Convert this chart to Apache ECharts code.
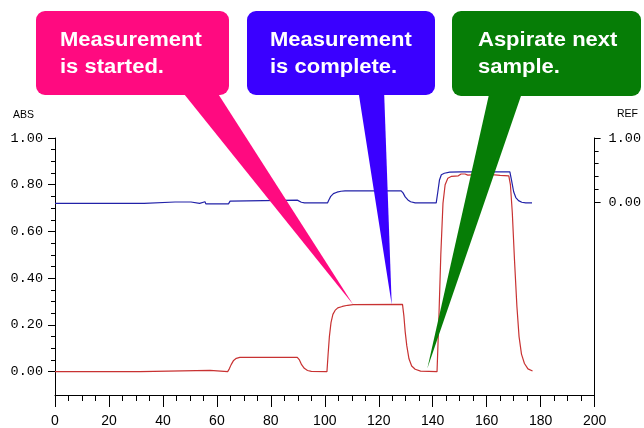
<!DOCTYPE html>
<html>
<head>
<meta charset="utf-8">
<script src="https://cdn.jsdelivr.net/npm/echarts@6/dist/echarts.min.js"></script>
<style>
html,body{margin:0;padding:0;background:#fff;}
#chart{width:644px;height:428px;}
</style>
</head>
<body>
<div id="chart"></div>
<script>
// ---- data ----
var xTickLabels = [0, 20, 40, 60, 80, 100, 120, 140, 160, 180, 200];
var absTickValues = [0, 0.2, 0.4, 0.6, 0.8, 1.0];
var absMinorValues = [0.05, 0.1, 0.15, 0.25, 0.3, 0.35, 0.45, 0.5, 0.55, 0.65, 0.7, 0.75, 0.85, 0.9, 0.95];
var refTickValues = [0, 1];
var refMinorValues = [0.2, 0.4, 0.6, 0.8];

var redSeries = [
  [0, 0.0], [31.5, 0.0], [31.8, 0.005], [57.5, 0.005], [57.8, 0.0], [64, 0.0],
  [64.6, 0.012], [65.3, 0.03], [66.2, 0.048], [67.2, 0.057], [68.5, 0.061],
  [89.8, 0.061], [90.6, 0.05], [91.4, 0.03], [92.4, 0.014], [93.6, 0.005], [95, 0.001],
  [100.8, 0.0], [101.2, 0.07], [101.7, 0.15], [102.3, 0.21], [103, 0.245], [103.8, 0.262],
  [104.8, 0.273], [106.5, 0.279], [108.5, 0.284], [110.5, 0.287], [128.8, 0.288],
  [129.3, 0.24], [129.8, 0.17], [130.4, 0.11], [131.2, 0.055], [132.2, 0.024], [133.5, 0.01],
  [135.5, 0.002], [141.6, 0.0], [142.2, 0.2], [143, 0.5], [143.8, 0.72], [144.6, 0.8],
  [145.6, 0.828], [147, 0.836], [149.5, 0.838], [150.5, 0.846], [152, 0.846], [153, 0.841],
  [156, 0.843], [157.5, 0.842], [158.3, 0.85], [159.2, 0.843], [163, 0.842], [165, 0.84],
  [168.2, 0.838], [168.8, 0.8], [169.5, 0.68], [170.3, 0.48], [171.2, 0.28], [172, 0.15],
  [172.9, 0.075], [174, 0.035], [175.3, 0.012], [177, 0.003]
];

var blueSeries = [
  [0, 0.72], [33, 0.72], [33.2, 0.726], [44.5, 0.726], [44.8, 0.721], [45.2, 0.726],
  [46.5, 0.726], [46.8, 0.721], [47.2, 0.726], [50.4, 0.726], [50.7, 0.72], [53.6, 0.72],
  [53.9, 0.727], [55.6, 0.727], [55.9, 0.718], [64.3, 0.718], [64.9, 0.73], [65.5, 0.734],
  [89.8, 0.734], [90.5, 0.73], [91.3, 0.725], [92.5, 0.722], [101, 0.722], [101.5, 0.735],
  [102.2, 0.75], [103.2, 0.762], [104.5, 0.768], [106, 0.772], [107.5, 0.774], [128.3, 0.774],
  [129, 0.765], [129.8, 0.748], [130.8, 0.735], [131.8, 0.727], [133.5, 0.722], [141.3, 0.722],
  [141.9, 0.77], [142.5, 0.82], [143.2, 0.843], [144.3, 0.849], [146.3, 0.854], [150.2, 0.855],
  [150.6, 0.851], [151, 0.855], [168.6, 0.855], [169.2, 0.82], [170, 0.77], [170.8, 0.745],
  [171.8, 0.732], [173, 0.725], [174.5, 0.722], [176.8, 0.722]
];

var calloutLines = [
  ['Measurement', 'is started.'],
  ['Measurement', 'is complete.'],
  ['Aspirate next', 'sample.']
];
var calloutTargets = [[110.5, 0.287], [124.8, 0.287], [138, 0.013]];

// ---- chart ----
var chart = echarts.init(document.getElementById('chart'), null, {renderer: 'canvas'});
var axisColor = '#000';
var tickFont = '"Liberation Mono", monospace';

function fmt(v) { return Number(v).toFixed(2); }

chart.setOption({
  animation: false,
  backgroundColor: '#fff',
  grid: {left: 55, right: 44, top: 138, bottom: 33, containLabel: false},
  xAxis: {
    type: 'value', min: 0, max: 200, interval: 20,
    axisLine: {show: true, onZero: false, lineStyle: {color: axisColor, width: 1}},
    axisTick: {show: true, length: 12, lineStyle: {color: axisColor}},
    minorTick: {show: true, splitNumber: 4, length: 6, lineStyle: {color: axisColor}},
    axisLabel: {margin: 19, fontSize: 14, color: '#000', fontFamily: '"Liberation Sans", Arial, sans-serif',
      customValues: xTickLabels},
    splitLine: {show: false}
  },
  yAxis: [
    {
      type: 'value', position: 'left', min: -0.1, max: 1.0,
      axisLine: {show: true, onZero: false, lineStyle: {color: axisColor}},
      axisTick: {show: true, length: 7, customValues: absTickValues, lineStyle: {color: axisColor}},
      axisLabel: {show: true, customValues: absTickValues, formatter: fmt, margin: 12,
        fontSize: 13.5, color: '#000', fontFamily: tickFont},
      splitLine: {show: false}
    },
    {
      type: 'value', position: 'left', min: -0.1, max: 1.0,
      axisLine: {show: false, onZero: false},
      axisTick: {show: true, length: 4, customValues: absMinorValues, lineStyle: {color: axisColor}},
      axisLabel: {show: false},
      splitLine: {show: false}
    },
    {
      type: 'value', position: 'right', min: -3, max: 1,
      axisLine: {show: true, onZero: false, lineStyle: {color: axisColor}},
      axisTick: {show: true, length: 6, customValues: refTickValues, lineStyle: {color: axisColor}},
      axisLabel: {show: true, customValues: refTickValues, formatter: fmt, margin: 14,
        fontSize: 13.5, color: '#000', fontFamily: tickFont},
      splitLine: {show: false}
    },
    {
      type: 'value', position: 'right', min: -3, max: 1,
      axisLine: {show: false, onZero: false},
      axisTick: {show: true, length: 4, customValues: refMinorValues, lineStyle: {color: axisColor}},
      axisLabel: {show: false},
      splitLine: {show: false}
    }
  ],
  series: [
    {
      name: 'REF', type: 'line', xAxisIndex: 0, yAxisIndex: 0, data: blueSeries,
      symbol: 'none', showSymbol: false, smooth: false,
      lineStyle: {color: '#2222a8', width: 1.2}, itemStyle: {color: '#2222a8'}, z: 2
    },
    {
      name: 'ABS', type: 'line', xAxisIndex: 0, yAxisIndex: 0, data: redSeries,
      symbol: 'none', showSymbol: false, smooth: false,
      lineStyle: {color: '#c83232', width: 1.2}, itemStyle: {color: '#c83232'}, z: 3
    }
  ]
});

// ---- callouts (layout in pixels, tips from data via the axes) ----
var boxLayout = [
  {x: 36, y: 11, w: 193, h: 84, textX: 60, wedge: [180, 215]},
  {x: 247, y: 11, w: 188, h: 84, textX: 270, wedge: [358, 384]},
  {x: 452, y: 11, w: 189, h: 85, textX: 478, wedge: [490, 523]}
];
var boxColors = ['#ff0a80', '#3a00ff', '#067d06'];
var textFont = 'bold 20px "Liberation Sans", Arial, sans-serif';

var graphics = [];
calloutTargets.forEach(function (t, i) {
  var tip = chart.convertToPixel({xAxisIndex: 0, yAxisIndex: 0}, t);
  var b = boxLayout[i];
  var by = b.y + b.h - 6;
  graphics.push({
    type: 'polygon', z: 100,
    shape: {points: [[b.wedge[0], by], [b.wedge[1], by], [tip[0], tip[1]]]},
    style: {fill: boxColors[i]}
  });
  graphics.push({
    type: 'rect', z: 101,
    shape: {x: b.x, y: b.y, width: b.w, height: b.h, r: 9},
    style: {fill: boxColors[i]}
  });
  calloutLines[i].forEach(function (line, k) {
    graphics.push({
      type: 'text', z: 102, x: b.textX, y: 40 + k * 27.5, scaleX: 1.1,
      style: {text: line, fill: '#ffffff', font: textFont, verticalAlign: 'middle', align: 'left'}
    });
  });
});
graphics.push({
  type: 'text', z: 50, x: 13, y: 115,
  style: {text: 'ABS', fill: '#000', font: '10.5px "Liberation Sans", Arial, sans-serif', verticalAlign: 'middle'}
});
graphics.push({
  type: 'text', z: 50, x: 617, y: 114,
  style: {text: 'REF', fill: '#000', font: '10.5px "Liberation Sans", Arial, sans-serif', verticalAlign: 'middle'}
});
chart.setOption({graphic: graphics});
</script>
</body>
</html>
